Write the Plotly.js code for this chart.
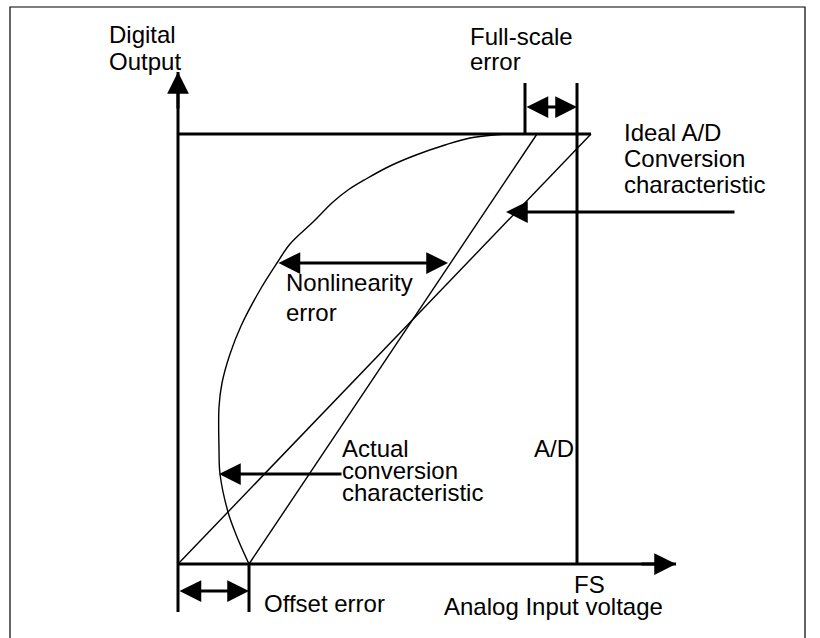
<!DOCTYPE html>
<html>
<head>
<meta charset="utf-8">
<script src="https://cdn.plot.ly/plotly-3.0.1.min.js"></script>
<style>html,body{margin:0;padding:0;background:#fff;}#chart{width:820px;height:638px;}</style>
</head>
<body>
<div id="chart"></div>
<script>
// Diagram coordinates (x: input direction, y: output direction, drawn top-down)
const curveX = [505, 470, 445, 416, 390, 366, 348, 333, 313, 290, 277, 260, 241, 230, 222, 219, 219, 220, 228, 237, 249];
const curveY = [134, 138, 145, 155, 166, 179, 190, 202, 222, 244, 263, 290, 326, 354, 383, 407, 448, 474, 512, 537, 564];
const idealX = [178, 591];
const idealY = [564, 134];
const actualX = [249, 537];
const actualY = [564, 134];
const yAxisX = [178, 178];
const yAxisY = [612, 72];
const xAxisX = [178, 676];
const xAxisY = [564, 564];
const topLineX = [178, 591];
const topLineY = [134, 134];
const fsLineX = [577, 577];
const fsLineY = [83, 564];
const fsTickX = [525, 525];
const fsTickY = [83, 134];
const offTickX = [249, 249];
const offTickY = [564, 612];
const frameX = [10, 10, 805, 805];
const frameY = [638, 7, 7, 638];

// arrows: [tipX, tipY, tailX, tailY]
const singleArrows = [
  [178, 72, 178, 110],
  [676, 564, 640, 564],
  [506, 212, 736, 212],
  [219, 474, 343, 474]
];
// double arrows: [x0, x1, y]
const doubleArrows = [
  [178, 249, 591],
  [525, 577, 107],
  [277, 448, 263]
];
// labels: [text, left x, baseline y]
const labels = [
  ['Digital', 108, 44], ['Output', 108, 71],
  ['Full-scale', 469, 46], ['error', 469, 71],
  ['Ideal A/D', 623, 142], ['Conversion', 623, 168], ['characteristic', 623, 194],
  ['Nonlinearity', 285, 292], ['error', 285, 322],
  ['Actual', 341, 458], ['conversion', 341, 480], ['characteristic', 341, 502],
  ['A/D', 533, 458], ['FS', 573, 594],
  ['Analog Input voltage', 443, 616], ['Offset error', 263, 613]
];

const thick = {color: '#000', width: 3};
const thin = {color: '#000', width: 1.4};
function seg(x, y, line, shape) {
  return {x: x, y: y, mode: 'lines', type: 'scatter', line: Object.assign({}, line, shape ? {shape: shape, smoothing: 1} : {}), hoverinfo: 'skip', showlegend: false};
}
const traces = [
  seg(frameX, frameY, {color: '#000', width: 1.2}),
  seg(curveX, curveY, thin, 'spline'),
  seg(idealX, idealY, thin),
  seg(actualX, actualY, thin),
  seg(yAxisX, yAxisY, thick),
  seg(xAxisX, xAxisY, thick),
  seg(topLineX, topLineY, thick),
  seg(fsLineX, fsLineY, thick),
  seg(fsTickX, fsTickY, thick),
  seg(offTickX, offTickY, thick)
];

const fontFam = '"Liberation Sans", Arial, Helvetica, sans-serif';
const annotations = [];
singleArrows.forEach(a => annotations.push({
  x: a[0], y: a[1], ax: a[2], ay: a[3], xref: 'x', yref: 'y', axref: 'x', ayref: 'y',
  text: '', showarrow: true, arrowhead: 2, arrowsize: 1.45, arrowwidth: 3, arrowcolor: '#000', standoff: 0
}));
doubleArrows.forEach(a => annotations.push({
  x: a[1], y: a[2], ax: a[0], ay: a[2], xref: 'x', yref: 'y', axref: 'x', ayref: 'y',
  text: '', showarrow: true, arrowside: 'end+start', arrowhead: 2, startarrowhead: 2,
  arrowsize: 1.45, startarrowsize: 1.45, arrowwidth: 3, arrowcolor: '#000', standoff: 0, startstandoff: 0
}));
labels.forEach(l => annotations.push({
  x: l[1] - 1, y: l[2] + 6, xref: 'x', yref: 'y', xanchor: 'left', yanchor: 'bottom',
  text: l[0], showarrow: false, font: {family: fontFam, size: 24, color: '#000'}
}));

const layout = {
  width: 820, height: 638,
  margin: {l: 0, r: 0, t: 0, b: 0},
  paper_bgcolor: '#fff', plot_bgcolor: '#fff',
  xaxis: {range: [0, 820], visible: false, fixedrange: true},
  yaxis: {range: [638, 0], visible: false, fixedrange: true},
  annotations: annotations,
  showlegend: false
};
Plotly.newPlot('chart', traces, layout, {staticPlot: true, displayModeBar: false});
</script>
</body>
</html>
